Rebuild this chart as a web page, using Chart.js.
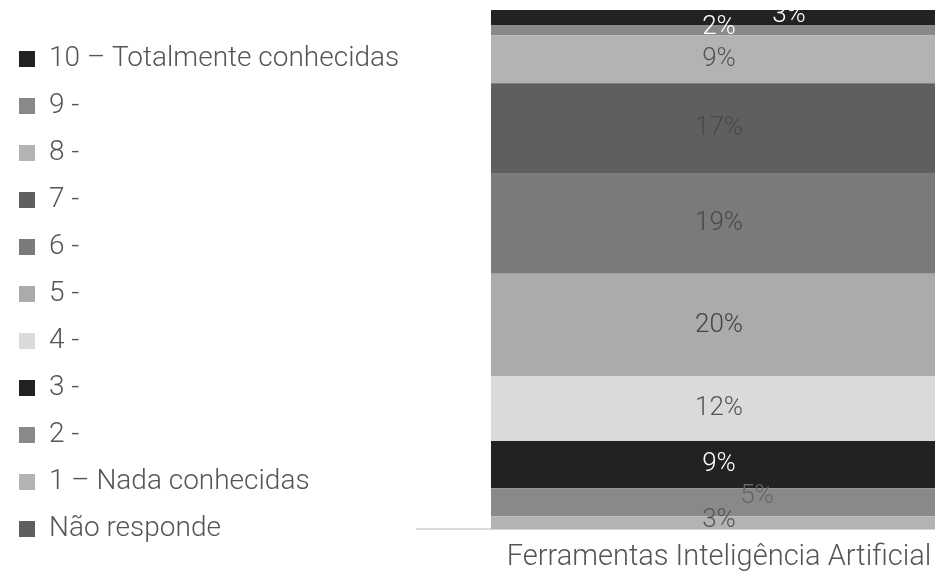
<!DOCTYPE html>
<html>
<head>
<meta charset="utf-8">
<script src="https://cdn.jsdelivr.net/npm/chart.js@4"></script>
<style>
  html, body { margin: 0; padding: 0; background: #fff; overflow: hidden; }
  #wrap { width: 1021px; height: 579px; }
</style>
</head>
<body>
<div id="wrap"><canvas id="grafico"></canvas></div>
<script>
const categorias = ['Ferramentas Inteligência Artificial'];
const series = ['Não responde', '1 – Nada conhecidas', '2 -', '3 -', '4 -', '5 -', '6 -', '7 -', '8 -', '9 -', '10 – Totalmente conhecidas'];
const valores = [0, 2.5, 5.4, 9.1, 12.4, 19.8, 19.4, 17.3, 9.2, 1.9, 3.0];
const cores = ['#5f5f5f', '#b3b3b3', '#898989', '#222222', '#dadada', '#ababab', '#7a7a7a', '#5f5f5f', '#b3b3b3', '#898989', '#222222'];
const coresTexto = ['#555', '#555', '#666', '#fff', '#555', '#444', '#4a4a4a', '#4a4a4a', '#555', '#fff', '#fff'];
// deslocamento das etiquetas que se sobrepõem
const desloc = [[0, 0], [0, -2], [38, -6], [0, 0], [0, 0], [0, 0], [0, 0], [0, 0], [0, 0], [0, -3], [70, -2]];

const fonte = "'Roboto', 'DejaVu Sans', sans-serif";

const etiquetas = {
    id: 'etiquetas',
    afterInit(chart) {
        // largura fixa da legenda, para o eixo começar no mesmo sítio
        const fitOriginal = chart.legend.fit;
        chart.legend.fit = function () {
            fitOriginal.call(this);
            this.width = 417;
        };
    },
    afterDatasetsDraw(chart) {
        const ctx = chart.ctx;
        ctx.save();
        ctx.font = `300 26px ${fonte}`;
        ctx.textAlign = 'center';
        ctx.textBaseline = 'middle';
        chart.data.datasets.forEach((ds, i) => {
            const v = ds.data[0];
            if (!v) return;
            const bar = chart.getDatasetMeta(i).data[0];
            const y = (bar.y + bar.base) / 2;
            ctx.fillStyle = coresTexto[i];
            ctx.fillText(Math.round(v) + '%', bar.x + desloc[i][0], y + desloc[i][1]);
        });
        ctx.restore();
    }
};

const ctx = document.getElementById('grafico').getContext('2d');

new Chart(ctx, {
    type: 'bar',
    data: {
        labels: categorias,
        datasets: series.map((s, i) => ({
            label: s,
            data: [valores[i]],
            backgroundColor: cores[i],
            borderWidth: 0,
            barPercentage: 0.755,
            categoryPercentage: 1
        }))
    },
    options: {
        responsive: true,
        maintainAspectRatio: false,
        animation: false,
        layout: { padding: { top: 10, left: 0, right: 0, bottom: 1 } },
        plugins: {
            tooltip: { enabled: false },
            legend: {
                position: 'left',
                reverse: true,
                labels: {
                    boxWidth: 16,
                    boxHeight: 16,
                    padding: 19,
                    color: '#555',
                    font: { family: fonte, size: 28, weight: 300 }
                }
            }
        },
        scales: {
            x: {
                stacked: true,
                grid: { display: false },
                border: { color: '#d9d9d9', width: 2 },
                ticks: {
                    color: '#555',
                    padding: 3,
                    font: { family: fonte, size: 29, weight: 300 }
                }
            },
            y: {
                stacked: true,
                display: false,
                min: 0,
                max: 100
            }
        }
    },
    plugins: [etiquetas]
});
</script>
</body>
</html>
